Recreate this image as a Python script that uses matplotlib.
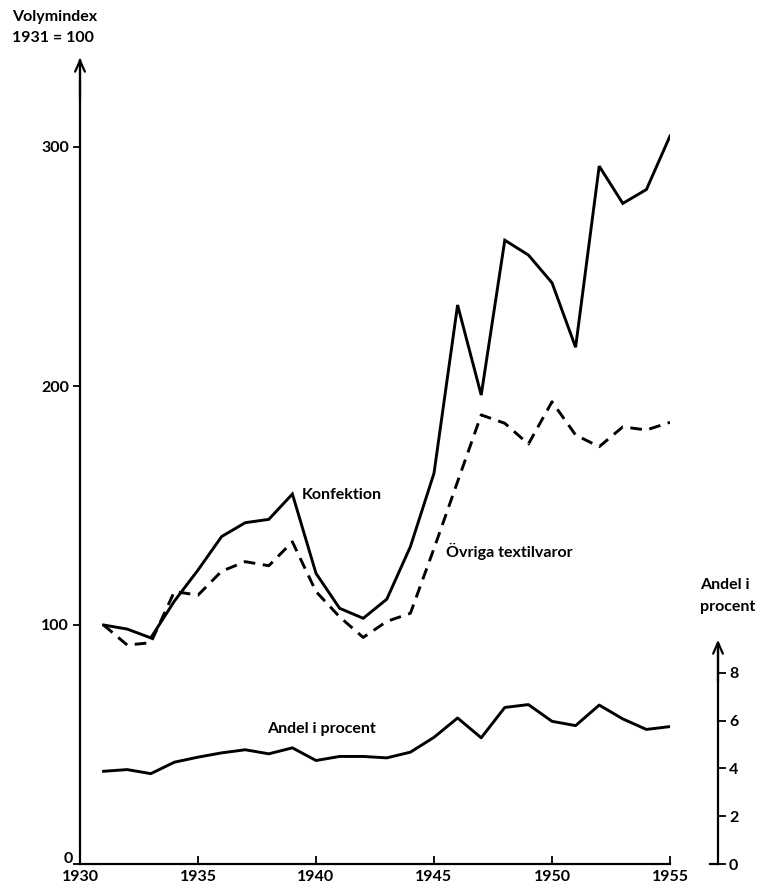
import matplotlib
matplotlib.use("Agg")
import matplotlib.pyplot as plt

plt.rcParams['font.family'] = ['Lato', 'DejaVu Sans']
plt.rcParams['font.weight'] = 'bold'

years = list(range(1931, 1956))
konfektion = [100, 98.3, 94.6, 110, 123, 137, 142.8, 144.2, 154.8, 121.6, 107, 102.8,
              110.8, 132.8, 163.5, 233.9, 196.2, 261, 254.8, 243.2, 216.2, 292, 276.4,
              282.2, 304.6]
ovriga = [100, 91.6, 92.6, 114, 112.5, 122.5, 126.5, 124.8, 134.8, 114, 103.4, 94.8,
          101.5, 104.9, 132, 160, 187.9, 184.4, 175.7, 193.4, 179.5, 174.6, 182.9,
          181.6, 184.8]
andel = [3.88, 3.95, 3.78, 4.26, 4.47, 4.65, 4.78, 4.61, 4.86, 4.33, 4.5, 4.5,
         4.44, 4.68, 5.3, 6.11, 5.28, 6.55, 6.67, 5.97, 5.79, 6.65, 6.07, 5.63, 5.75]
x_ticks = [1930, 1935, 1940, 1945, 1950, 1955]
y_ticks = [0, 100, 200, 300]
r_ticks = [0, 2, 4, 6, 8]

W, H = 767, 889
fig = plt.figure(figsize=(W / 100, H / 100), dpi=100)

x0, x1 = 80, 670
y0, ytop = 864, 55
ppu = 2.39
ymax = (y0 - ytop) / ppu
fs = 11.5

ax = fig.add_axes([x0 / W, (H - y0) / H, (x1 - x0) / W, (y0 - ytop) / H])
ax.set_xlim(1930, 1955)
ax.set_ylim(0, ymax)
ax.patch.set_alpha(0)
for s in ['top', 'right']:
    ax.spines[s].set_visible(False)
ax.spines['left'].set_linewidth(1.6)
ax.spines['bottom'].set_linewidth(1.6)
ax.spines['left'].set_bounds(0, ymax - 2)

ax.plot(years, konfektion, color='black', lw=2.1, solid_joinstyle='miter')
ax.plot(years, ovriga, color='black', lw=2.1, dashes=(4, 2.6))

ax.set_xticks(x_ticks)
ax.set_xticklabels([str(v) for v in x_ticks], fontsize=fs)
ax.tick_params(axis='x', direction='in', length=6, width=1.3, pad=4)
ax.set_yticks(y_ticks)
ax.set_yticklabels(['' if v == 0 else str(v) for v in y_ticks], fontsize=fs)
ax.tick_params(axis='y', direction='out', length=5, width=1.3, pad=3)
fig.text(73 / W, 1 - 859 / H, '0', fontsize=fs, va='center', ha='right')

ax.annotate('', xy=(1930, ymax), xytext=(1930, ymax - 20), xycoords='data',
            arrowprops=dict(arrowstyle='->,head_width=0.35,head_length=0.8', lw=1.6,
                            color='black'), annotation_clip=False)

# share line on twin scale
tw = ax.twinx()
tw.set_ylim(0, ymax / 10.0)
tw.axis('off')
tw.plot(years, andel, color='black', lw=2.1)

# right display axis
rx = 718
axr = fig.add_axes([(rx - 10) / W, (H - y0) / H, 10 / W, (y0 - ytop) / H])
axr.set_ylim(0, ymax / 10.0)
axr.patch.set_alpha(0)
for s in ['top', 'left', 'bottom']:
    axr.spines[s].set_visible(False)
axr.spines['right'].set_linewidth(1.6)
rtop = (y0 - 637) / 23.9
axr.spines['right'].set_bounds(0, rtop - 0.3)
axr.set_xticks([])
axr.yaxis.tick_right()
axr.set_yticks(r_ticks)
axr.set_yticklabels([str(v) for v in r_ticks], fontsize=fs)
axr.tick_params(axis='y', direction='out', length=6, width=1.3, pad=2)
axr.annotate('', xy=(1, rtop), xytext=(1, rtop - 2), xycoords=('axes fraction', 'data'),
             arrowprops=dict(arrowstyle='->,head_width=0.35,head_length=0.8', lw=1.6,
                             color='black'), annotation_clip=False)
fig.add_artist(plt.Line2D([(rx - 8) / W, rx / W], [(H - y0) / H] * 2, color='black', lw=1.6))

fig.text(12 / W, 1 - 17 / H, 'Volymindex', fontsize=fs, va='center', ha='left')
fig.text(12 / W, 1 - 38 / H, '1931 = 100', fontsize=fs, va='center', ha='left')
fig.text(302 / W, 1 - 495 / H, 'Konfektion', fontsize=fs, va='center', ha='left')
fig.text(446 / W, 1 - 551 / H, 'Övriga textilvaror', fontsize=fs, va='center', ha='left')
fig.text(267 / W, 1 - 729 / H, 'Andel i procent', fontsize=fs, va='center', ha='left')
fig.text(700 / W, 1 - 585 / H, 'Andel i', fontsize=fs, va='center', ha='left')
fig.text(700 / W, 1 - 607 / H, 'procent', fontsize=fs, va='center', ha='left')

fig.savefig('out.png', dpi=100)
